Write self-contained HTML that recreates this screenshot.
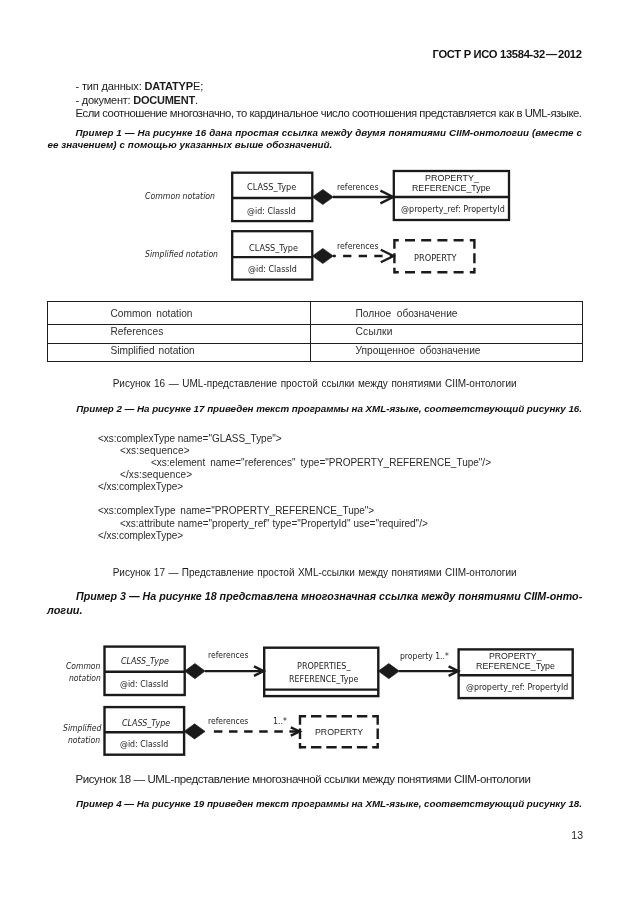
<!DOCTYPE html>
<html lang="ru">
<head>
<meta charset="utf-8">
<title>ГОСТ Р ИСО 13584-32—2012</title>
<style>
html,body{margin:0;padding:0;background:#fff;}
body{width:630px;height:913px;position:relative;overflow:hidden;font-family:"Liberation Sans",sans-serif;}
.page{position:absolute;left:0;top:0;width:630px;height:913px;background:#fff;overflow:hidden;filter:blur(0.35px);}
header,main,section,figure,footer,pre{display:block;margin:0;padding:0;border:0;position:static;}
.t{position:absolute;display:block;white-space:pre;margin:0;padding:0;font-family:"Liberation Sans",sans-serif;font-weight:normal;font-style:normal;transform-origin:0 0;}
.t.dv{font-family:"DejaVu Sans",sans-serif;}
.t.b{font-weight:bold;}
.t.i{font-style:italic;}
.t.bi{font-weight:bold;font-style:italic;}
.t b{font-weight:bold;}
.t .dash{margin:0 1.2px;}
svg.dg{position:absolute;left:0;top:0;}
table.leg{position:absolute;left:47px;top:301px;width:536px;border-collapse:collapse;table-layout:fixed;}
table.leg td{border:1px solid #1e1e1e;padding:0;}
</style>
</head>
<body>
<div class="page">
<header>
<div class="t b" style="left:432.60px;top:47.42px;font-size:11.2px;line-height:15px;color:#111;letter-spacing:-0.313px;">ГОСТ Р ИСО 13584-32<span class="dash">—</span>2012</div>
</header>
<main>
<section>
<p class="t" style="left:75.50px;top:79.39px;font-size:11px;line-height:14px;color:#1c1c1c;letter-spacing:-0.151px;">- тип данных: <b>DATATYP</b>E;</p>
<p class="t" style="left:75.50px;top:92.79px;font-size:11px;line-height:14px;color:#1c1c1c;letter-spacing:-0.230px;">- документ: <b>DOCUMENT</b>.</p>
<p class="t" style="left:75.50px;top:105.68px;font-size:11.3px;line-height:15px;color:#1c1c1c;letter-spacing:-0.462px;">Если соотношение многозначно, то кардинальное число соотношения представляется как в UML-языке.</p>
<p class="t bi" style="left:75.50px;top:125.90px;font-size:9.8px;line-height:13px;color:#111;letter-spacing:0.039px;word-spacing:0.169px;">Пример 1 — На рисунке 16 дана простая ссылка между двумя понятиями CIIM-онтологии (вместе с</p>
<p class="t bi" style="left:47.50px;top:138.40px;font-size:9.8px;line-height:13px;color:#111;letter-spacing:0.026px;word-spacing:0.143px;">ее значением) с помощью указанных выше обозначений.</p>
</section>
<figure>
<svg role="img" aria-label="Рисунок 16" class="dg" width="630" height="913" viewBox="0 0 630 913" fill="none" stroke="#1a1a1a" stroke-width="2.3" stroke-linejoin="miter">
<!-- Figure 16 -->
<g>
<rect x="232.2" y="172.7" width="80.1" height="48.4"/>
<line x1="232.2" y1="198" x2="312.3" y2="198"/>
<polygon points="312.3,197 322.8,189.4 333.3,197 322.8,204.6" fill="#1a1a1a" stroke-width="0.6"/>
<line x1="333" y1="197" x2="392.6" y2="197"/>
<polyline points="380.4,190.6 393.2,197 380.4,203.4"/>
<rect x="393.8" y="171" width="115.2" height="49"/>
<line x1="393.8" y1="197" x2="509" y2="197"/>

<rect x="232.2" y="231.2" width="80.1" height="48.4"/>
<line x1="232.2" y1="257.1" x2="312.3" y2="257.1"/>
<polygon points="312.3,256 322.8,248.4 333.3,256 322.8,263.6" fill="#1a1a1a" stroke-width="0.6"/>
<line x1="333" y1="256" x2="392" y2="256" stroke-dasharray="8.3 7.3" stroke-dashoffset="5.5" stroke-width="2.3"/>
<polyline points="380.8,249.7 393.6,256 380.8,262.3" stroke-width="2.3"/>
<g stroke-width="2.4">
<line x1="394.4" y1="240.2" x2="474.4" y2="240.2" stroke-dasharray="10 6.2" stroke-dashoffset="5.6"/>
<line x1="394.4" y1="272.2" x2="474.4" y2="272.2" stroke-dasharray="10 6.2" stroke-dashoffset="5.6"/>
<line x1="394.4" y1="239" x2="394.4" y2="273.4" stroke-dasharray="10 4.5" stroke-dashoffset="0.2"/>
<line x1="474.4" y1="239" x2="474.4" y2="273.4" stroke-dasharray="10 4.5" stroke-dashoffset="0.2"/>
</g>
</g>
</svg>
<span class="t dv i" style="left:145.00px;top:190.13px;font-size:9.3px;line-height:12px;color:#222;transform:scaleX(0.8377);">Common notation</span>
<span class="t dv i" style="left:145.00px;top:247.63px;font-size:9.3px;line-height:12px;color:#222;transform:scaleX(0.8303);">Simplified notation</span>
<span class="t dv" style="left:246.70px;top:180.83px;font-size:9.3px;line-height:12px;color:#222;transform:scaleX(0.8794);">CLASS_Type</span>
<span class="t dv" style="left:247.30px;top:204.83px;font-size:9.3px;line-height:12px;color:#222;transform:scaleX(0.8546);">@id: ClassId</span>
<span class="t dv" style="left:249.20px;top:241.63px;font-size:9.3px;line-height:12px;color:#222;transform:scaleX(0.8740);">CLASS_Type</span>
<span class="t dv" style="left:247.60px;top:263.13px;font-size:9.3px;line-height:12px;color:#222;transform:scaleX(0.8581);">@id: ClassId</span>
<span class="t dv" style="left:336.50px;top:181.13px;font-size:9.3px;line-height:12px;color:#222;transform:scaleX(0.8426);">references</span>
<span class="t dv" style="left:336.50px;top:239.63px;font-size:9.3px;line-height:12px;color:#222;transform:scaleX(0.8426);">references</span>
<span class="t" style="left:424.50px;top:171.63px;font-size:9.6px;line-height:12px;color:#222;transform:scaleX(0.9320);">PROPERTY_</span>
<span class="t" style="left:411.50px;top:181.93px;font-size:9.6px;line-height:12px;color:#222;transform:scaleX(0.9201);">REFERENCE_Type</span>
<span class="t dv" style="left:400.50px;top:203.43px;font-size:9.3px;line-height:12px;color:#222;transform:scaleX(0.8643);">@property_ref: PropertyId</span>
<span class="t dv" style="left:413.50px;top:251.63px;font-size:9.3px;line-height:12px;color:#222;transform:scaleX(0.8851);">PROPERTY</span>
<table class="leg"><colgroup><col style="width:263px"><col></colgroup>
<tbody>
<tr style="height:23px"><td><span class="t" style="left:62.90px;top:5.97px;font-size:10.2px;line-height:13px;color:#2e2e2e;letter-spacing:0.000px;word-spacing:1.678px;">Common notation</span></td><td><span class="t" style="left:308.00px;top:5.97px;font-size:10.2px;line-height:13px;color:#2e2e2e;letter-spacing:0.000px;word-spacing:2.750px;">Полное обозначение</span></td></tr>
<tr style="height:19px"><td><span class="t" style="left:62.90px;top:23.87px;font-size:10.2px;line-height:13px;color:#2e2e2e;letter-spacing:0.088px;">References</span></td><td><span class="t" style="left:308.00px;top:23.87px;font-size:10.2px;line-height:13px;color:#2e2e2e;letter-spacing:0.225px;">Ссылки</span></td></tr>
<tr style="height:18px"><td><span class="t" style="left:62.90px;top:42.87px;font-size:10.2px;line-height:13px;color:#2e2e2e;letter-spacing:0.000px;word-spacing:1.150px;">Simplified notation</span></td><td><span class="t" style="left:308.00px;top:42.87px;font-size:10.2px;line-height:13px;color:#2e2e2e;letter-spacing:0.000px;word-spacing:2.031px;">Упрощенное обозначение</span></td></tr>
</tbody>
</table>
<figcaption class="t" style="left:112.70px;top:376.84px;font-size:10px;line-height:13px;color:#1c1c1c;letter-spacing:0.000px;word-spacing:0.806px;">Рисунок 16 — UML-представление простой ссылки между понятиями CIIM-онтологии</figcaption>
</figure>
<section>
<p class="t bi" style="left:76.30px;top:401.90px;font-size:9.8px;line-height:13px;color:#111;letter-spacing:-0.037px;">Пример 2 — На рисунке 17 приведен текст программы на XML-языке, соответствующий рисунку 16.</p>
<pre>
<code class="t" style="left:98.00px;top:431.84px;font-size:10px;line-height:13px;color:#2a2a2a;letter-spacing:-0.036px;">&lt;xs:complexType name="GLASS_Type"&gt;</code>
<code class="t" style="left:120.00px;top:443.84px;font-size:10px;line-height:13px;color:#2a2a2a;letter-spacing:0.139px;">&lt;xs:sequence&gt;</code>
<code class="t" style="left:151.00px;top:455.94px;font-size:10px;line-height:13px;color:#2a2a2a;letter-spacing:0.000px;word-spacing:2.266px;">&lt;xs:element name="references" type="PROPERTY_REFERENCE_Tupe"/&gt;</code>
<code class="t" style="left:120.00px;top:467.64px;font-size:10px;line-height:13px;color:#2a2a2a;letter-spacing:0.107px;">&lt;/xs:sequence&gt;</code>
<code class="t" style="left:98.00px;top:480.34px;font-size:10px;line-height:13px;color:#2a2a2a;letter-spacing:-0.072px;">&lt;/xs:complexType&gt;</code>
<code class="t" style="left:98.00px;top:504.04px;font-size:10px;line-height:13px;color:#2a2a2a;letter-spacing:0.000px;word-spacing:2.044px;">&lt;xs:complexType name="PROPERTY_REFERENCE_Tupe"&gt;</code>
<code class="t" style="left:120.00px;top:516.53px;font-size:10px;line-height:13px;color:#2a2a2a;letter-spacing:0.000px;word-spacing:0.163px;">&lt;xs:attribute name="property_ref" type="PropertyId" use="required"/&gt;</code>
<code class="t" style="left:98.00px;top:528.63px;font-size:10px;line-height:13px;color:#2a2a2a;letter-spacing:-0.072px;">&lt;/xs:complexType&gt;</code>
</pre>
<p class="t" style="left:112.70px;top:565.53px;font-size:10px;line-height:13px;color:#1c1c1c;letter-spacing:0.000px;word-spacing:0.654px;">Рисунок 17 — Представление простой XML-ссылки между понятиями CIIM-онтологии</p>
<p class="t bi" style="left:75.80px;top:588.48px;font-size:11.6px;line-height:15px;color:#111;transform:scaleX(0.9210);">Пример 3 — На рисунке 18 представлена многозначная ссылка между понятиями CIIM-онто-</p>
<p class="t bi" style="left:46.70px;top:602.28px;font-size:11.6px;line-height:15px;color:#111;transform:scaleX(0.9438);">логии.</p>
</section>
<figure>
<svg role="img" aria-label="Рисунок 18" class="dg" width="630" height="913" viewBox="0 0 630 913" fill="none" stroke="#1a1a1a" stroke-width="2.3" stroke-linejoin="miter">
<!-- Figure 18 -->
<g stroke-width="2.4">
<rect x="104.5" y="646.6" width="80.2" height="48.4"/>
<line x1="104.5" y1="671.7" x2="184.7" y2="671.7"/>
<polygon points="184.7,671.1 194.9,663.5 205.1,671.1 194.9,678.7" fill="#1a1a1a" stroke-width="0.6"/>
<line x1="205" y1="671.1" x2="263" y2="671.1"/>
<polyline points="254,666.4 263.6,671.1 254,675.8"/>
<rect x="264.2" y="647.7" width="114.1" height="48.4"/>
<line x1="264.2" y1="689.6" x2="378.3" y2="689.6"/>
<polygon points="378.3,671.1 388.8,663.5 399.3,671.1 388.8,678.7" fill="#1a1a1a" stroke-width="0.6"/>
<line x1="399" y1="671.1" x2="457.5" y2="671.1"/>
<polyline points="448.6,666.4 458.2,671.1 448.6,675.8"/>
<rect x="458.6" y="649.4" width="114.1" height="48.7"/>
<line x1="458.6" y1="675.2" x2="572.7" y2="675.2"/>

<rect x="104.5" y="707.1" width="79.6" height="47.6"/>
<line x1="104.5" y1="732.3" x2="184.1" y2="732.3"/>
<polygon points="184.1,731.4 194.6,723.8 205.1,731.4 194.6,739" fill="#1a1a1a" stroke-width="0.6"/>
<line x1="213.9" y1="731.5" x2="299" y2="731.5" stroke-dasharray="8.5 6.6"/>
<polyline points="290.8,727.4 299.6,731.5 290.8,735.6"/>
<line x1="300" y1="716.2" x2="377.7" y2="716.2" stroke-dasharray="10.4 4.9" stroke-dashoffset="4.3"/>
<line x1="300" y1="747.2" x2="377.7" y2="747.2" stroke-dasharray="10.4 4.9" stroke-dashoffset="4.3"/>
<line x1="300" y1="715" x2="300" y2="748.4" stroke-dasharray="10.5 3.8" stroke-dashoffset="0.7"/>
<line x1="377.7" y1="715" x2="377.7" y2="748.4" stroke-dasharray="10.5 3.8" stroke-dashoffset="0.7"/>
</g>
</svg>
<span class="t dv i" style="left:66.20px;top:659.63px;font-size:9.3px;line-height:12px;color:#222;transform:scaleX(0.8191);">Common</span>
<span class="t dv i" style="left:68.70px;top:671.53px;font-size:9.3px;line-height:12px;color:#222;transform:scaleX(0.8210);">notation</span>
<span class="t dv i" style="left:62.70px;top:721.83px;font-size:9.3px;line-height:12px;color:#222;transform:scaleX(0.8281);">Simplified</span>
<span class="t dv i" style="left:68.30px;top:734.13px;font-size:9.3px;line-height:12px;color:#222;transform:scaleX(0.8261);">notation</span>
<span class="t dv i" style="left:120.70px;top:654.73px;font-size:9.3px;line-height:12px;color:#222;transform:scaleX(0.8512);">CLASS_Type</span>
<span class="t dv" style="left:120.00px;top:677.83px;font-size:9.3px;line-height:12px;color:#222;transform:scaleX(0.8476);">@id: ClassId</span>
<span class="t dv i" style="left:121.70px;top:716.83px;font-size:9.3px;line-height:12px;color:#222;transform:scaleX(0.8601);">CLASS_Type</span>
<span class="t dv" style="left:120.00px;top:738.43px;font-size:9.3px;line-height:12px;color:#222;transform:scaleX(0.8476);">@id: ClassId</span>
<span class="t dv" style="left:207.50px;top:649.43px;font-size:9.3px;line-height:12px;color:#222;transform:scaleX(0.8223);">references</span>
<span class="t dv" style="left:207.70px;top:714.83px;font-size:9.3px;line-height:12px;color:#222;transform:scaleX(0.8183);">references</span>
<span class="t dv" style="left:272.70px;top:714.83px;font-size:9.3px;line-height:12px;color:#222;transform:scaleX(0.8493);">1..*</span>
<span class="t dv" style="left:296.50px;top:659.93px;font-size:9.3px;line-height:12px;color:#222;transform:scaleX(0.8699);">PROPERTIES_</span>
<span class="t dv" style="left:288.50px;top:672.73px;font-size:9.3px;line-height:12px;color:#222;transform:scaleX(0.8557);">REFERENCE_Type</span>
<span class="t" style="left:314.70px;top:725.33px;font-size:9.8px;line-height:13px;color:#222;transform:scaleX(0.8973);">PROPERTY</span>
<span class="t dv" style="left:399.50px;top:649.83px;font-size:9.3px;line-height:12px;color:#222;transform:scaleX(0.8238);">property 1..*</span>
<span class="t" style="left:488.50px;top:650.13px;font-size:9.6px;line-height:12px;color:#222;transform:scaleX(0.9061);">PROPERTY_</span>
<span class="t" style="left:476.00px;top:660.43px;font-size:9.6px;line-height:12px;color:#222;transform:scaleX(0.9260);">REFERENCE_Type</span>
<span class="t dv" style="left:466.00px;top:680.83px;font-size:9.3px;line-height:12px;color:#222;transform:scaleX(0.8518);">@property_ref: PropertyId</span>
<figcaption class="t" style="left:75.50px;top:771.52px;font-size:11.5px;line-height:15px;color:#1c1c1c;letter-spacing:-0.408px;">Рисунок 18 — UML-представление многозначной ссылки между понятиями CIIM-онтологии</figcaption>
</figure>
<section>
<p class="t bi" style="left:76.00px;top:797.40px;font-size:9.8px;line-height:13px;color:#111;letter-spacing:-0.034px;">Пример 4 — На рисунке 19 приведен текст программы на XML-языке, соответствующий рисунку 18.</p>
</section>
</main>
<footer>
<div class="t" style="left:571.30px;top:828.26px;font-size:10.5px;line-height:14px;color:#1c1c1c;">13</div>
</footer>
</div>
</body>
</html>
